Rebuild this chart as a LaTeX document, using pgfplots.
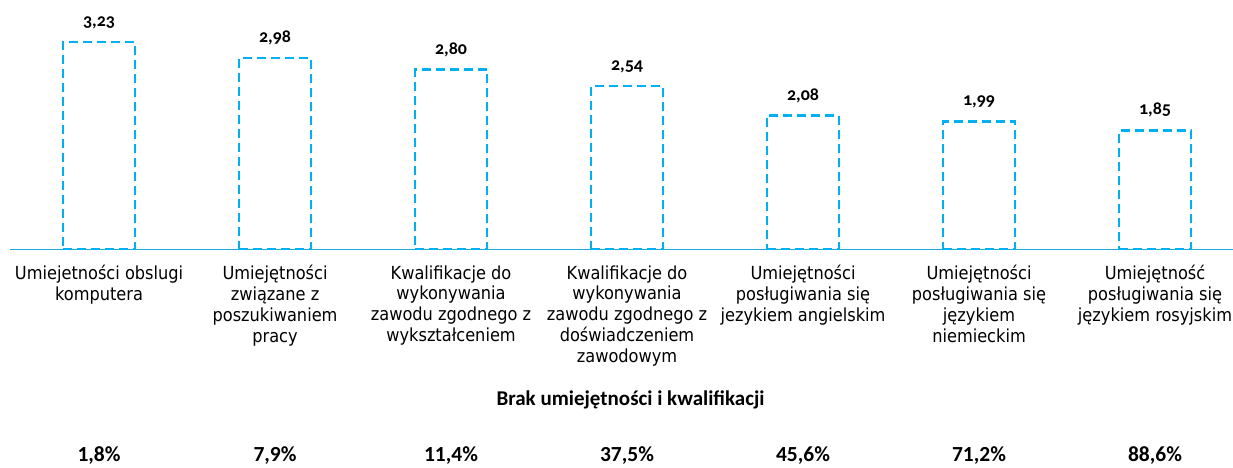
\documentclass[border=0pt]{standalone}
\usepackage{pgfplots}
\pgfplotsset{compat=1.18}
\usepackage{fontspec}
\setmainfont{DejaVu Sans Condensed}
\newfontfamily\calo[Numbers=OldStyle]{Carlito}
\newfontfamily\call[Numbers=Lining]{Carlito}
\definecolor{barblue}{HTML}{00B0F0}
\definecolor{axisblue}{HTML}{1FA8E0}
\pgfplotstableread{
x y label
0 3.23 3,23
1 2.98 2,98
2 2.80 2,80
3 2.54 2,54
4 2.08 2,08
5 1.99 1,99
6 1.85 1,85
}\skills
\pgfplotstableread{
x y label
0 -3.315 1,8\%
1 -3.315 7,9\%
2 -3.315 11,4\%
3 -3.315 37,5\%
4 -3.315 45,6\%
5 -3.315 71,2\%
6 -3.315 88,6\%
}\lack
\begin{document}
\begin{tikzpicture}
\useasboundingbox (-10pt,-218pt) rectangle (1223pt,249pt);
\begin{axis}[at={(0pt,0pt)}, anchor=south west, scale only axis,
  width=1223pt, height=249pt,
  xmin=-0.506, xmax=6.443, ymin=0, ymax=3.885,
  axis y line=none, axis x line=bottom,
  axis line style={-, axisblue, line width=1pt},
  xtick={0,...,6}, major tick length=0pt,
  xticklabels={
    {Umiejetności obslugi\\komputera},
    {Umiejętności\\związane z\\poszukiwaniem\\pracy},
    {Kwalifikacje do\\wykonywania\\zawodu zgodnego z\\wykształceniem},
    {Kwalifikacje do\\wykonywania\\zawodu zgodnego z\\doświadczeniem\\zawodowym},
    {Umiejętności\\posługiwania się\\jezykiem angielskim},
    {Umiejętności\\posługiwania się\\językiem\\niemieckim},
    {Umiejętność\\posługiwania się\\językiem rosyjskim}},
  xticklabel style={align=center, font=\fontsize{18}{20.7}\selectfont, anchor=north, yshift=-13pt},
  clip=false]
\addplot[ybar, bar width=72pt, draw=barblue, fill=none, line width=2.5pt,
  dash pattern=on 9pt off 5pt,
  nodes near coords, point meta=explicit symbolic,
  nodes near coords style={font=\calo\bfseries\fontsize{18}{18}\selectfont, anchor=base, yshift=15.5pt, text=black}]
  table[x=x, y=y, meta=label] {\skills};
\addplot[only marks, mark=none, nodes near coords, point meta=explicit symbolic,
  nodes near coords style={font=\call\bfseries\fontsize{21.5}{21.5}\selectfont, anchor=base, text=black}]
  table[x=x, y=y, meta=label] {\lack};
\node[anchor=base, font=\call\bfseries\fontsize{21}{21}\selectfont] at (axis cs:3.02,-2.445) {Brak umiejętności i kwalifikacji};
\end{axis}
\end{tikzpicture}
\end{document}
